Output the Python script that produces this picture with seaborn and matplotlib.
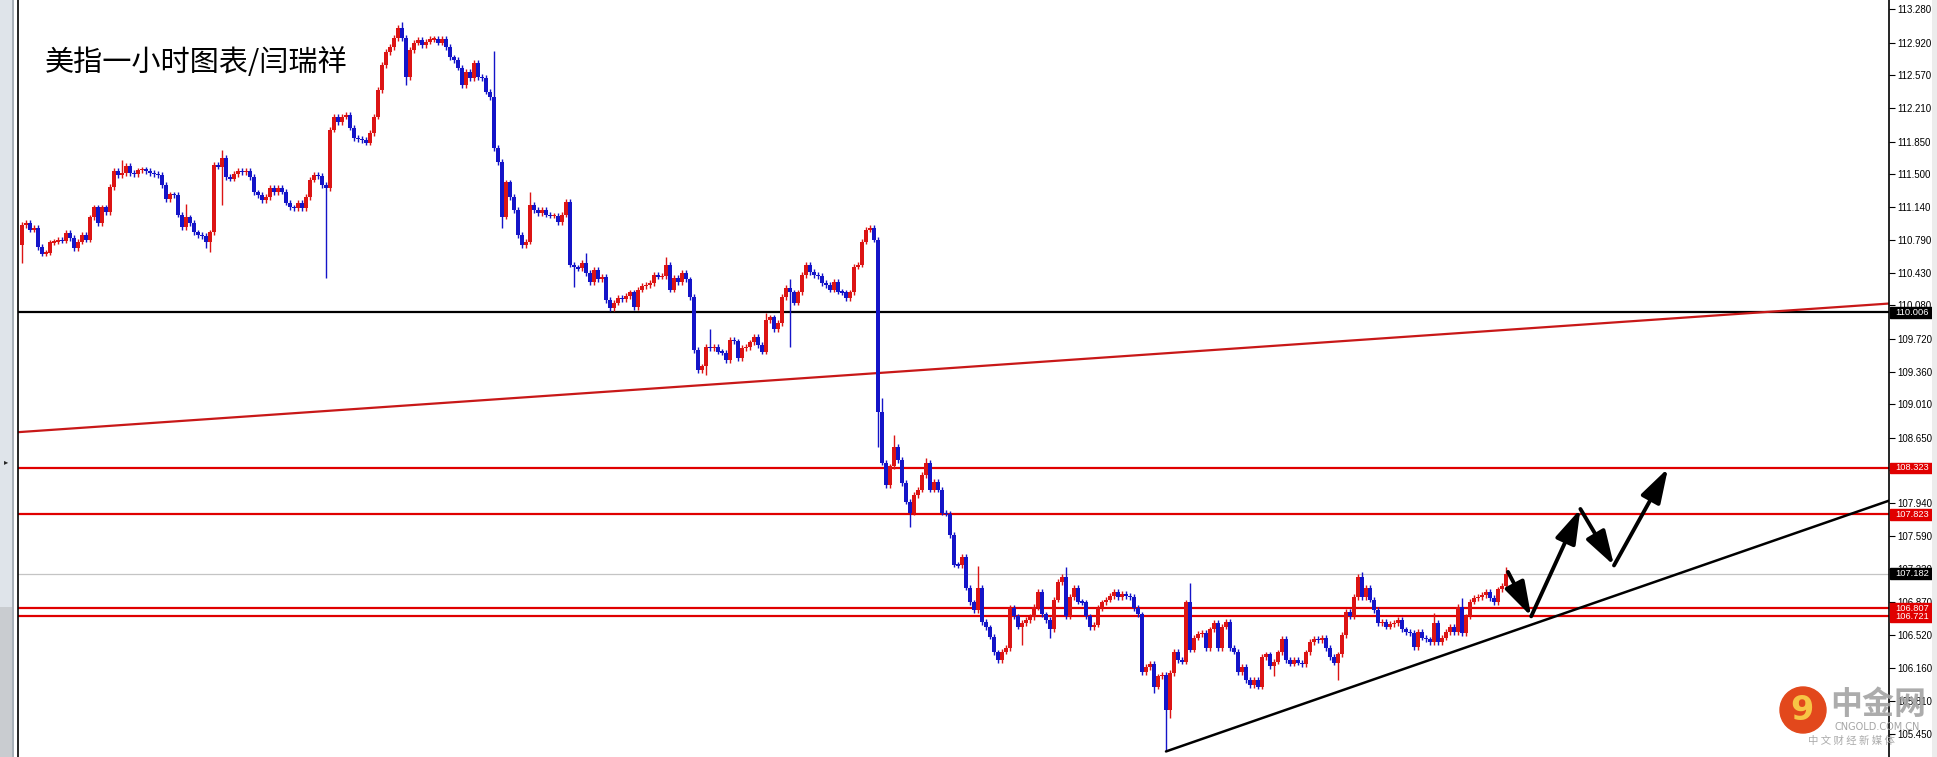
import matplotlib
matplotlib.use("Agg")
import matplotlib.pyplot as plt
import matplotlib.patches as mpatches
import matplotlib.transforms as mtransforms
import numpy as np
import seaborn as sns

# hourly closes of the dollar index left to right
close_a = [110.95, 110.97, 110.90, 110.92, 110.71, 110.64, 110.65, 110.76, 110.77, 110.79,
           110.78, 110.86, 110.81, 110.70, 110.77, 110.84, 110.79, 111.03, 111.14, 110.97,
           111.14, 111.09, 111.36, 111.53, 111.49, 111.51, 111.59, 111.51, 111.50, 111.54,
           111.55, 111.53, 111.51, 111.50, 111.49, 111.38, 111.23, 111.28, 111.27, 111.06,
           110.93, 111.03, 110.97, 110.87, 110.84, 110.83, 110.77, 110.87, 111.60, 111.58,
           111.67, 111.47, 111.45, 111.50, 111.53, 111.52, 111.53, 111.47, 111.30, 111.27,
           111.22, 111.25]
close_b = [111.35, 111.30, 111.35, 111.31, 111.19, 111.14, 111.13, 111.19, 111.13, 111.25,
           111.44, 111.49, 111.48, 111.38, 111.35, 111.98, 112.12, 112.06, 112.12, 112.14,
           112.00, 111.89, 111.88, 111.87, 111.84, 111.94, 112.12, 112.41, 112.68, 112.82,
           112.87, 112.97, 113.08, 112.97, 112.55, 112.84, 112.92, 112.95, 112.89, 112.93,
           112.96, 112.96, 112.92, 112.96, 112.87, 112.76, 112.73, 112.65, 112.46, 112.60,
           112.54, 112.70, 112.55, 112.54, 112.39, 112.33, 111.78, 111.63, 111.04, 111.41,
           111.25, 111.11]
close_c = [110.84, 110.73, 110.77, 111.17, 111.11, 111.08, 111.11, 111.06, 111.05, 111.05,
           110.98, 111.06, 111.20, 110.52, 110.49, 110.48, 110.54, 110.43, 110.33, 110.46,
           110.36, 110.39, 110.14, 110.05, 110.11, 110.16, 110.15, 110.18, 110.22, 110.06,
           110.25, 110.29, 110.30, 110.32, 110.41, 110.39, 110.40, 110.52, 110.25, 110.38,
           110.33, 110.43, 110.36, 110.17, 109.60, 109.38, 109.42, 109.63, 109.62, 109.63,
           109.58, 109.57, 109.49, 109.71, 109.69, 109.51, 109.62, 109.63, 109.68, 109.74,
           109.65, 109.58, 109.92]
close_d = [109.95, 109.82, 109.89, 110.17, 110.27, 110.22, 110.11, 110.22, 110.41, 110.52,
           110.44, 110.41, 110.40, 110.32, 110.30, 110.25, 110.33, 110.23, 110.22, 110.16,
           110.22, 110.50, 110.52, 110.77, 110.90, 110.92, 110.79, 108.93, 108.38, 108.14,
           108.34, 108.55, 108.41, 108.16, 107.96, 107.84, 108.03, 108.09, 108.25, 108.38,
           108.09, 108.17, 108.09, 107.84, 107.83, 107.60, 107.28, 107.27, 107.36, 107.03,
           106.87, 106.79, 107.03, 106.66, 106.60, 106.50, 106.33, 106.25, 106.34, 106.38,
           106.81, 106.72]
close_e = [106.61, 106.65, 106.68, 106.71, 106.82, 106.98, 106.74, 106.68, 106.58, 106.90,
           107.09, 107.15, 106.72, 106.93, 107.03, 106.88, 106.87, 106.72, 106.60, 106.63,
           106.81, 106.87, 106.90, 106.94, 106.98, 106.93, 106.96, 106.94, 106.93, 106.81,
           106.74, 106.12, 106.17, 106.21, 105.96, 106.07, 106.09, 105.71, 106.11, 106.34,
           106.25, 106.23, 106.87, 106.36, 106.49, 106.53, 106.54, 106.38, 106.58, 106.65,
           106.38, 106.61, 106.66, 106.38, 106.34, 106.12, 106.17, 106.03, 105.98, 106.03,
           105.96, 106.28, 106.31]
close_f = [106.18, 106.23, 106.33, 106.48, 106.25, 106.21, 106.25, 106.22, 106.20, 106.33,
           106.44, 106.48, 106.46, 106.49, 106.38, 106.28, 106.22, 106.31, 106.52, 106.77,
           106.72, 106.93, 107.15, 106.93, 107.03, 106.90, 106.79, 106.65, 106.66, 106.61,
           106.64, 106.65, 106.68, 106.58, 106.55, 106.54, 106.39, 106.55, 106.49, 106.47,
           106.44, 106.65, 106.44, 106.49, 106.55, 106.61, 106.55, 106.82, 106.54, 106.72,
           106.88, 106.92, 106.93, 106.95, 106.98, 106.92, 106.87, 107.01, 107.05, 107.182]
first_open = 110.73

# candles with a visibly long shadow: index -> (high, low), None keeps the short one
long_wicks = {0: (None, 110.54), 25: (111.65, None), 41: (111.18, None), 46: (None, 110.70),
              47: (None, 110.66), 50: (111.76, 111.17), 76: (None, 110.38), 95: (113.14, None),
              96: (None, 112.46), 118: (112.83, None), 120: (None, 110.92), 127: (111.31, None),
              138: (None, 110.28), 141: (110.65, None), 161: (110.60, None), 171: (None, 109.33),
              172: (109.82, None), 186: (110.00, None), 192: (110.37, 109.63), 214: (None, 108.55),
              215: (109.08, None), 218: (108.68, None), 222: (None, 107.68), 226: (108.43, None),
              239: (107.26, None), 250: (None, 106.41), 257: (None, 106.49), 261: (107.25, None),
              283: (None, 105.89), 286: (None, 105.26), 287: (None, 105.62), 292: (107.08, None),
              313: (None, 106.07), 329: (None, 106.03), 335: (107.20, None), 353: (106.76, None),
              360: (106.92, None), 371: (107.25, None)}
short_wick = 0.03

tick_prices = [113.280, 112.920, 112.570, 112.210, 111.850, 111.500, 111.140, 110.790,
               110.430, 110.080, 109.720, 109.360, 109.010, 108.650, 108.300, 107.940,
               107.590, 107.230, 106.870, 106.520, 106.160, 105.810, 105.450]
support_level = 110.006
red_levels = [108.323, 107.823, 106.807, 106.721]
bid_price = 107.182

# drawn objects (x in bar index, y in price)
red_trend_x, red_trend_y = [-1, 466.75], [108.71, 110.10]
up_trend_x, up_trend_y = [286, 466.75], [105.26, 107.97]
arrow_x = [371.5, 377.3, 389.6, 398.0, 411.5]
arrow_y = [107.20, 106.72, 107.88, 107.27, 108.32]

RED = "#dc1414"
BLUE = "#1414c8"

closes = np.array(close_a + close_b + close_c + close_d + close_e + close_f)
opens = np.concatenate([[first_open], closes[:-1]])
n = len(closes)
idx = np.arange(n)
highs = np.maximum(opens, closes) + short_wick
lows = np.minimum(opens, closes) - short_wick
for i, (h, l) in long_wicks.items():
    if h is not None:
        highs[i] = max(h, highs[i])
    if l is not None:
        lows[i] = min(l, lows[i])

sns.set_style("white")
plt.rcParams["font.family"] = ["Noto Sans CJK SC", "DejaVu Sans"]

W, H = 1937, 757
fig = plt.figure(figsize=(W / 100, H / 100), dpi=100)
ax = fig.add_axes([18 / W, 0, (1889 - 18) / W, 1])

up = closes >= opens
cols = np.where(up, RED, BLUE)
ax.vlines(idx, lows, highs, colors=cols, lw=1.0, zorder=3)
body_h = np.maximum(np.abs(closes - opens), 0.014)
body_b = (opens + closes) / 2 - body_h / 2
ax.bar(idx, body_h, bottom=body_b, width=0.76, color=cols, lw=0, zorder=4)

ax.axhline(support_level, color="black", lw=1.6, zorder=2)
for p in red_levels:
    ax.axhline(p, color="#e00000", lw=1.6, zorder=2)
ax.axhline(bid_price, color="#c4c4c4", lw=0.9, zorder=1)

sns.lineplot(x=red_trend_x, y=red_trend_y, ax=ax, color="#c81818", lw=1.6, zorder=2)
sns.lineplot(x=up_trend_x, y=up_trend_y, ax=ax, color="black", lw=1.8, zorder=5)

for k in range(len(arrow_x) - 1):
    ax.annotate("", xy=(arrow_x[k + 1], arrow_y[k + 1]), xytext=(arrow_x[k], arrow_y[k]),
                arrowprops=dict(arrowstyle="-|>,head_length=2.1,head_width=0.65",
                                color="black", lw=2.8, shrinkA=0, shrinkB=0), zorder=6)

ax.set_xlim(-1, 466.75)
ax.set_ylim(105.200, 113.380)
ax.set_xticks([])
ax.yaxis.tick_right()
ax.set_yticks(tick_prices)
ax.set_yticklabels([f"{p:.3f}" for p in tick_prices], fontfamily="Liberation Sans")
ax.tick_params(axis="y", direction="out", length=4, width=0.8, pad=2, labelsize=7,
               colors="black")
for s in ["top", "bottom"]:
    ax.spines[s].set_visible(False)
for s in ["left", "right"]:
    ax.spines[s].set_color("black")
    ax.spines[s].set_linewidth(1.2)

# price tags on the axis
trans = mtransforms.blended_transform_factory(ax.transAxes, ax.transData)
tags = [(support_level, "black")] + [(p, "#e00000") for p in red_levels] + [(bid_price, "black")]
for p, c in tags:
    ax.add_patch(mpatches.Rectangle((1.0006, p - 0.058), 0.0235, 0.116, transform=trans,
                                    color=c, clip_on=False, zorder=10))
    ax.text(1.0124, p, f"{p:.3f}", transform=trans, color="white", fontsize=6.7,
            fontfamily="Liberation Sans", ha="center", va="center", clip_on=False, zorder=11)

fig.text(45 / W, 1 - 63 / H, "美指一小时图表/闫瑞祥", fontsize=21, color="black",
         ha="left", va="center")

# window edges
fig.add_artist(mpatches.Rectangle((0, 0), 14 / W, 1, transform=fig.transFigure,
                                  color="#dfe4ea", lw=0))
fig.add_artist(mpatches.Rectangle((0, 0), 14 / W, 150 / H, transform=fig.transFigure,
                                  color="#c9ccd0", lw=0))
fig.add_artist(mpatches.Rectangle((12 / W, 0), 2 / W, 1, transform=fig.transFigure,
                                  color="#a8b0b8", lw=0))
fig.add_artist(mpatches.Rectangle((1932 / W, 0), 5 / W, 1, transform=fig.transFigure,
                                  color="#ececec", lw=0))
fig.text(6 / W, 1 - 462 / H, "▸", fontsize=6, ha="center", va="center", family="DejaVu Sans")

# watermark
fig.add_artist(mpatches.Ellipse((1803 / W, 1 - 710 / H), 46 / W, 46 / H,
                                transform=fig.transFigure, color="#e2481c", zorder=20))
fig.text(1802 / W, 1 - 711 / H, "9", fontsize=24, fontweight="bold", color="#f7c545",
         ha="center", va="center", family="DejaVu Sans", zorder=21)
fig.text(1878 / W, 1 - 705 / H, "中金网", fontsize=23, fontweight="bold", color="#a3a3a3",
         ha="center", va="center", alpha=0.9, zorder=21)
fig.text(1877 / W, 1 - 727 / H, "CNGOLD.COM.CN", fontsize=7, color="#a5a5a5",
         ha="center", va="center", family="DejaVu Sans", zorder=21)
fig.text(1851 / W, 1 - 741 / H, "中 文 财 经 新 媒 体", fontsize=7.5, color="#ababab",
         ha="center", va="center", zorder=21)

fig.savefig("out.png", dpi=100)
